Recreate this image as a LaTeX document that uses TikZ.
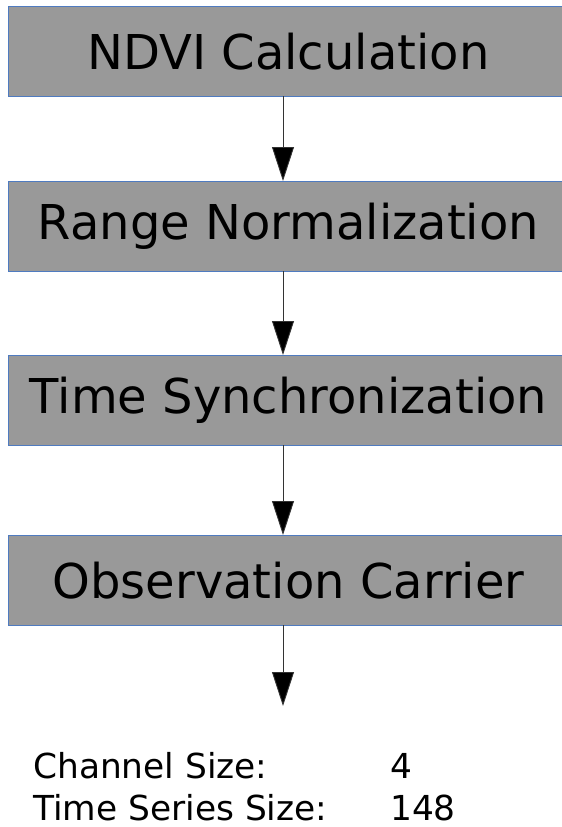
\documentclass[tikz,border=0pt]{standalone}
\usepackage{fontspec}
\setmainfont{DejaVu Sans}
\usetikzlibrary{arrows.meta}
\definecolor{boxfill}{HTML}{999999}
\definecolor{boxline}{HTML}{4F7BC0}
\tikzset{
  stage/.style={draw=boxline, line width=0.9pt, fill=boxfill, minimum width=560pt, minimum height=90pt, inner sep=0pt, font=\fontsize{48}{56}\selectfont, anchor=north west},
  flow/.style={draw=black!80, line width=0.9pt, -{Triangle[width=22pt,length=34pt,fill=black]}},
  info/.style={anchor=base west, inner sep=0pt, font=\fontsize{34.4}{40}\selectfont}
}
\begin{document}
\begin{tikzpicture}[x=1pt,y=-1pt]
\useasboundingbox (0,0) rectangle (562,827);
\begin{scope}
\clip (0,0) rectangle (562,827);
\node[stage] (n1) at (8,6) {NDVI Calculation};
\node[stage] (n2) at (8,181) {Range Normalization};
\node[stage] (n3) at (8,355) {Time Synchronization};
\node[stage] (n4) at (8,535) {Observation Carrier};
\end{scope}
\coordinate (a1) at (283,96);
\coordinate (b1) at (283,181);
\coordinate (a2) at (283,271);
\coordinate (b2) at (283,355);
\coordinate (a3) at (283,445);
\coordinate (b3) at (283,535);
\coordinate (a4) at (283,625);
\coordinate (b4) at (283,706);
\draw[flow] (a1) -- (b1);
\draw[flow] (a2) -- (b2);
\draw[flow] (a3) -- (b3);
\draw[flow] (a4) -- (b4);
\node[info] (l1) at (33,778) {Channel Size:};
\node[info] (v1) at (390,778) {4};
\node[info] (l2) at (33,820) {Time Series Size:};
\node[info] (v2) at (390,820) {148};
\end{tikzpicture}
\end{document}
